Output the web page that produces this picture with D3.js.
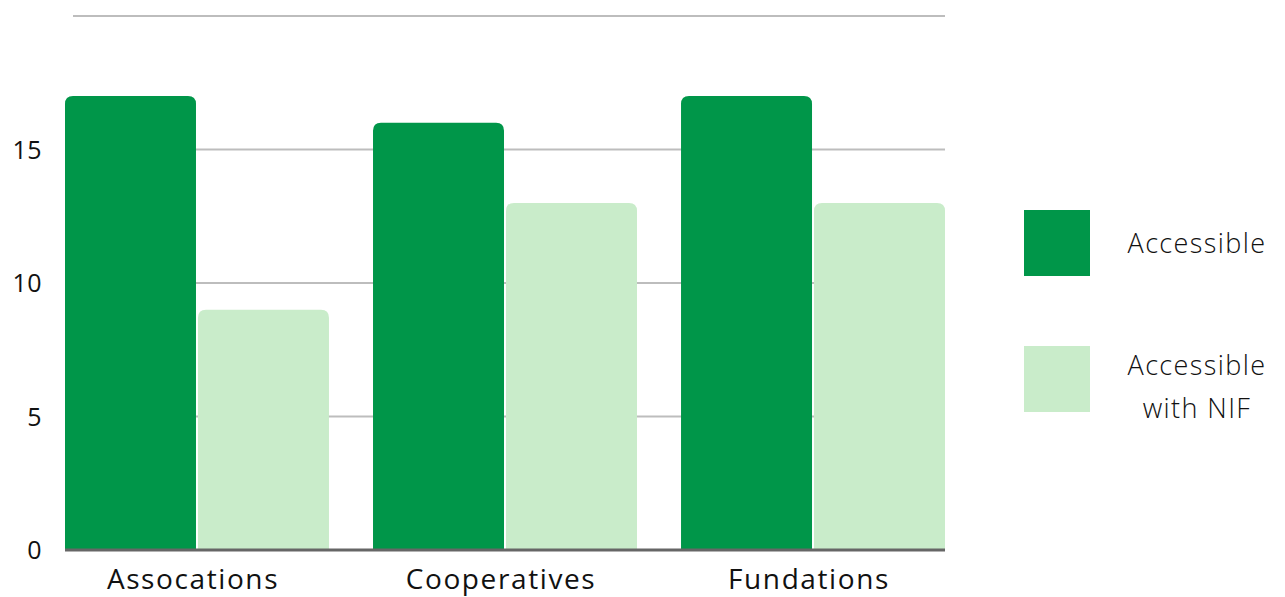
<!DOCTYPE html>
<html>
<head>
<meta charset="utf-8">
<script src="https://cdn.jsdelivr.net/npm/d3@7"></script>
<style>
  html, body { margin: 0; padding: 0; background: #fff; }
  svg { display: block; }
  text { font-family: "Open Sans", "Lato", sans-serif; fill: #111; }
</style>
</head>
<body>
<svg id="chart" width="1285" height="597"></svg>
<script>
// Organisation types and counts per series
const categories = ["Assocations", "Cooperatives", "Fundations"];
const seriesNames = ["Accessible", "Accessible with NIF"];
const accessible = [17, 16, 17];
const accessibleWithNif = [9, 13, 13];
const yTicks = [0, 5, 10, 15, 20];
const yTickLabels = ["0", "5", "10", "15", ""];
const colors = ["#009649", "#c9ecca"];

const svg = d3.select("#chart");
const plot = { left: 65, right: 945, top: 16, bottom: 550 };

const x0 = d3.scaleBand()
  .domain(categories)
  .range([plot.left, plot.right])
  .paddingInner(0.143)
  .paddingOuter(0);

const x1 = d3.scaleBand()
  .domain(seriesNames)
  .range([0, x0.bandwidth()])
  .paddingInner(0.015);

const y = d3.scaleLinear().domain([0, 20]).range([plot.bottom, plot.top]);

// Horizontal gridlines
svg.append("g")
  .selectAll("line")
  .data(yTicks.filter(t => t > 0))
  .join("line")
  .attr("x1", 73)
  .attr("x2", plot.right)
  .attr("y1", d => y(d))
  .attr("y2", d => y(d))
  .attr("stroke", "#bdbdbd")
  .attr("stroke-width", 2);

// Y-axis tick labels
svg.append("g")
  .selectAll("text")
  .data(yTicks)
  .join("text")
  .attr("x", 42)
  .attr("y", d => y(d))
  .attr("dy", "0.36em")
  .attr("text-anchor", "end")
  .attr("font-size", 25)
  .attr("letter-spacing", 0.5)
  .text((d, i) => yTickLabels[i]);

// Bars with rounded top corners
function topRounded(x, yTop, w, h, r) {
  r = Math.min(r, h, w / 2);
  return `M${x},${yTop + h}V${yTop + r}Q${x},${yTop} ${x + r},${yTop}` +
         `H${x + w - r}Q${x + w},${yTop} ${x + w},${yTop + r}V${yTop + h}Z`;
}

const rows = categories.map((c, i) => ({
  category: c,
  values: [
    { series: seriesNames[0], value: accessible[i], color: colors[0] },
    { series: seriesNames[1], value: accessibleWithNif[i], color: colors[1] }
  ]
}));

svg.append("g")
  .selectAll("g")
  .data(rows)
  .join("g")
  .attr("transform", d => `translate(${x0(d.category)},0)`)
  .selectAll("path")
  .data(d => d.values)
  .join("path")
  .attr("d", d => topRounded(x1(d.series), y(d.value), x1.bandwidth(), y(0) - y(d.value), 8))
  .attr("fill", d => d.color);

// Baseline
svg.append("line")
  .attr("x1", plot.left)
  .attr("x2", plot.right)
  .attr("y1", y(0))
  .attr("y2", y(0))
  .attr("stroke", "#666")
  .attr("stroke-width", 3);

// Category labels
svg.append("g")
  .selectAll("text")
  .data(categories)
  .join("text")
  .attr("x", d => x0(d) + x0.bandwidth() / 2 - 4)
  .attr("y", 589)
  .attr("text-anchor", "middle")
  .attr("font-size", 28)
  .attr("letter-spacing", 1.6)
  .text(d => d);

// Legend
const legend = svg.append("g");
const legendItems = [
  { lines: ["Accessible"], color: colors[0], top: 210, textY: [243] },
  { lines: ["Accessible", "with NIF"], color: colors[1], top: 346, textY: [365, 408] }
];
legendItems.forEach(item => {
  legend.append("rect")
    .attr("x", 1024).attr("y", item.top)
    .attr("width", 66).attr("height", 66)
    .attr("fill", item.color);
  item.lines.forEach((line, j) => {
    legend.append("text")
      .attr("x", 1197)
      .attr("y", item.textY[j])
      .attr("dy", "0.36em")
      .attr("text-anchor", "middle")
      .attr("font-size", 27)
      .attr("font-weight", 300)
      .attr("letter-spacing", 1.4)
      .text(line);
  });
});
</script>
</body>
</html>
